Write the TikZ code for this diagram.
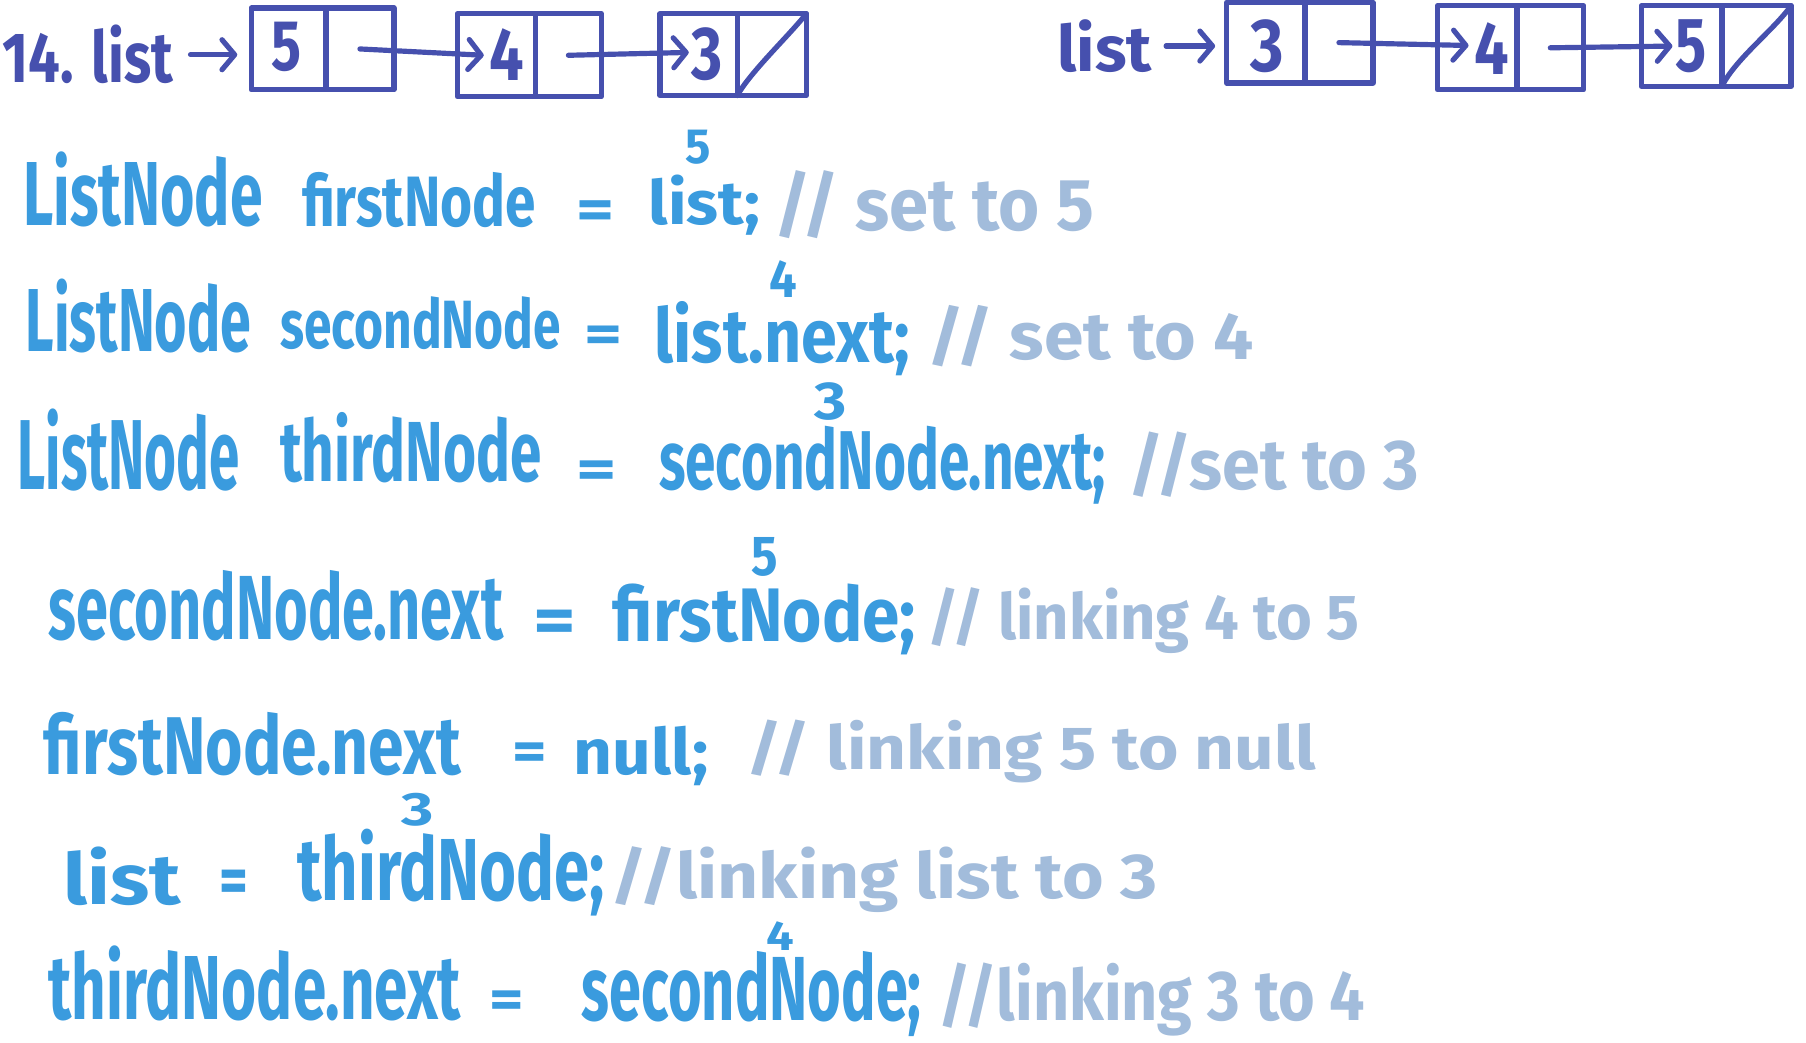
\documentclass[tikz,border=0pt]{standalone}
\usepackage{fontspec}
\setmainfont{Fira Sans}
\usetikzlibrary{arrows.meta}
\definecolor{ink}{HTML}{4650AE}
\definecolor{code}{HTML}{3A9BDE}
\definecolor{note}{HTML}{A2BCDB}
% fit a text into a box of given width and height (in pt)
\newcommand\fit[3]{\resizebox{#1pt}{#2pt}{\bfseries #3}}
\tikzset{
  cell/.style={draw=ink, line width=4.5pt, line join=round, inner sep=0pt, outer sep=0pt},
  digit/.style={text=ink, inner sep=0pt},
  head/.style={text=ink, inner sep=0pt, anchor=base west},
  arr/.style={draw=ink, line width=4.5pt, line cap=round,
    -{Straight Barb[length=11pt, width=26pt, line width=4.5pt, round]}},
  nullbar/.style={draw=ink, line width=4.5pt, line cap=round},
  codetxt/.style={text=code, inner sep=0pt, anchor=base west},
  notetxt/.style={text=note, inner sep=0pt, anchor=base west},
  sup/.style={text=code, inner sep=0pt, anchor=base west},
}
\begin{document}
\begin{tikzpicture}[x=1pt, y=-1pt]
\useasboundingbox[fill=white] (0,0) rectangle (1568,905);

% ---------- list before: 5 -> 4 -> 3 ----------
\node[head] (h1) at (2,72) {\fit{148}{50}{14. list}};
\node[cell, minimum width=65pt, minimum height=71pt] (b1v) at (250.5,42.5) {};
\node[cell, minimum width=59pt, minimum height=71pt] (b1p) at (312.5,42.5) {};
\node[cell, minimum width=68pt, minimum height=72pt] (b2v) at (431,48) {};
\node[cell, minimum width=57pt, minimum height=72pt] (b2p) at (493.5,48) {};
\node[cell, minimum width=67pt, minimum height=71pt] (b3v) at (606.5,47.5) {};
\node[cell, minimum width=60pt, minimum height=71pt] (b3p) at (670,47.5) {};
\node[digit] (d1) at (249,41) {\fit{26}{42}{5}};
\node[digit] (d2) at (440,47) {\fit{30}{45}{4}};
\node[digit] (d3) at (614,47) {\fit{27}{45}{3}};
\draw[arr, shorten <=15pt, shorten >=12pt] (h1.east) -- (b1v.west |- h1.east);
\draw[arr] (b1p.center) -- ([xshift=23pt]b2v.west);
\draw[arr] (b2p.center) -- ([xshift=25pt,yshift=2pt]b3v.west);
\draw[nullbar] (b3p.south west) .. controls (652,62) and (684,32) .. (b3p.north east);

% ---------- list after: 3 -> 4 -> 5 ----------
\node[head] (h2) at (918,62) {\fit{82}{45}{list}};
\node[cell, minimum width=68pt, minimum height=70pt] (b4v) at (1099,37) {};
\node[cell, minimum width=59pt, minimum height=70pt] (b4p) at (1162.5,37) {};
\node[cell, minimum width=69pt, minimum height=73pt] (b5v) at (1282.5,41.5) {};
\node[cell, minimum width=58pt, minimum height=73pt] (b5p) at (1346,41.5) {};
\node[cell, minimum width=70pt, minimum height=70pt] (b6v) at (1460,40) {};
\node[cell, minimum width=60pt, minimum height=70pt] (b6p) at (1525,40) {};
\node[digit] (d4) at (1100,40) {\fit{29}{45}{3}};
\node[digit] (d5) at (1295,42) {\fit{30}{45}{4}};
\node[digit] (d6) at (1468,40) {\fit{27}{45}{5}};
\draw[arr, shorten <=12pt, shorten >=10pt] (h2.east) -- (b4v.west |- h2.east);
\draw[arr] (b4p.center) -- ([xshift=27pt,yshift=2pt]b5v.west);
\draw[arr] (b5p.center) -- ([xshift=27pt]b6v.west);
\draw[nullbar] (b6p.south west) .. controls (1506,52) and (1540,26) .. (b6p.north east);

% ---------- code lines ----------
% ListNode firstNode = list;
\node[codetxt] (l1a) at (20,196) {\fit{208}{64}{ListNode}};
\node[codetxt] (l1b) at (262,197) {\fit{203}{47}{firstNode}};
\node[codetxt] (l1c) at (500,199) {\fit{33}{25}{=}};
\node[codetxt] (l1d) at (563,195) {\fit{97}{43}{list;}};
\node[sup]     (l1e) at (595,142) {\fit{22}{29}{5}};
\node[notetxt] (l1f) at (672,200) {\fit{278}{52}{// set to 5}};

% ListNode secondNode = list.next;
\node[codetxt] (l2a) at (22,305) {\fit{196}{63}{ListNode}};
\node[codetxt] (l2b) at (243,303) {\fit{244}{45}{secondNode}};
\node[codetxt] (l2c) at (507,306) {\fit{33}{23}{=}};
\node[codetxt] (l2d) at (568,315) {\fit{222}{53}{list.next;}};
\node[sup]     (l2e) at (668,258) {\fit{24}{32}{4}};
\node[notetxt] (l2f) at (805,312) {\fit{283}{47}{// set to 4}};

% ListNode thirdNode = secondNode.next;
\node[codetxt] (l3a) at (15,425) {\fit{193}{70}{ListNode}};
\node[codetxt] (l3b) at (243,418) {\fit{227}{60}{thirdNode}};
\node[codetxt] (l3c) at (500,424) {\fit{35}{24}{=}};
\node[codetxt] (l3d) at (572,425) {\fit{388}{55}{secondNode.next;}};
\node[sup]     (l3e) at (707,364) {\fit{28}{32}{3}};
\node[notetxt] (l3f) at (980,425) {\fit{252}{50}{//set to 3}};

% secondNode.next = firstNode;
\node[codetxt] (l4a) at (42,555) {\fit{395}{60}{secondNode.next}};
\node[codetxt] (l4c) at (463,559) {\fit{37}{29}{=}};
\node[codetxt] (l4d) at (532,557) {\fit{263}{50}{firstNode;}};
\node[sup]     (l4e) at (652,500) {\fit{23}{33}{5}};
\node[notetxt] (l4f) at (805,555) {\fit{375}{45}{// linking 4 to 5}};

% firstNode.next = null;
\node[codetxt] (l5a) at (38,672) {\fit{362}{54}{firstNode.next}};
\node[codetxt] (l5c) at (445,669) {\fit{30}{24}{=}};
\node[codetxt] (l5d) at (498,672) {\fit{117}{42}{null;}};
\node[notetxt] (l5f) at (648,668) {\fit{494}{43}{// linking 5 to null}};

% list = thirdNode;
\node[codetxt] (l6a) at (55,785) {\fit{102}{50}{list}};
\node[codetxt] (l6c) at (190,784) {\fit{25}{29}{=}};
\node[codetxt] (l6d) at (258,782) {\fit{267}{62}{thirdNode;}};
\node[sup]     (l6e) at (348,717) {\fit{28}{28}{3}};
\node[notetxt] (l6f) at (530,780) {\fit{475}{45}{//linking list to 3}};

% thirdNode.next = secondNode;
\node[codetxt] (l7a) at (42,885) {\fit{358}{64}{thirdNode.next}};
\node[codetxt] (l7c) at (425,884) {\fit{30}{24}{=}};
\node[codetxt] (l7d) at (505,886) {\fit{295}{60}{secondNode;}};
\node[sup]     (l7e) at (665,825) {\fit{24}{25}{4}};
\node[notetxt] (l7f) at (815,886) {\fit{370}{50}{//linking 3 to 4}};
\end{tikzpicture}
\end{document}
